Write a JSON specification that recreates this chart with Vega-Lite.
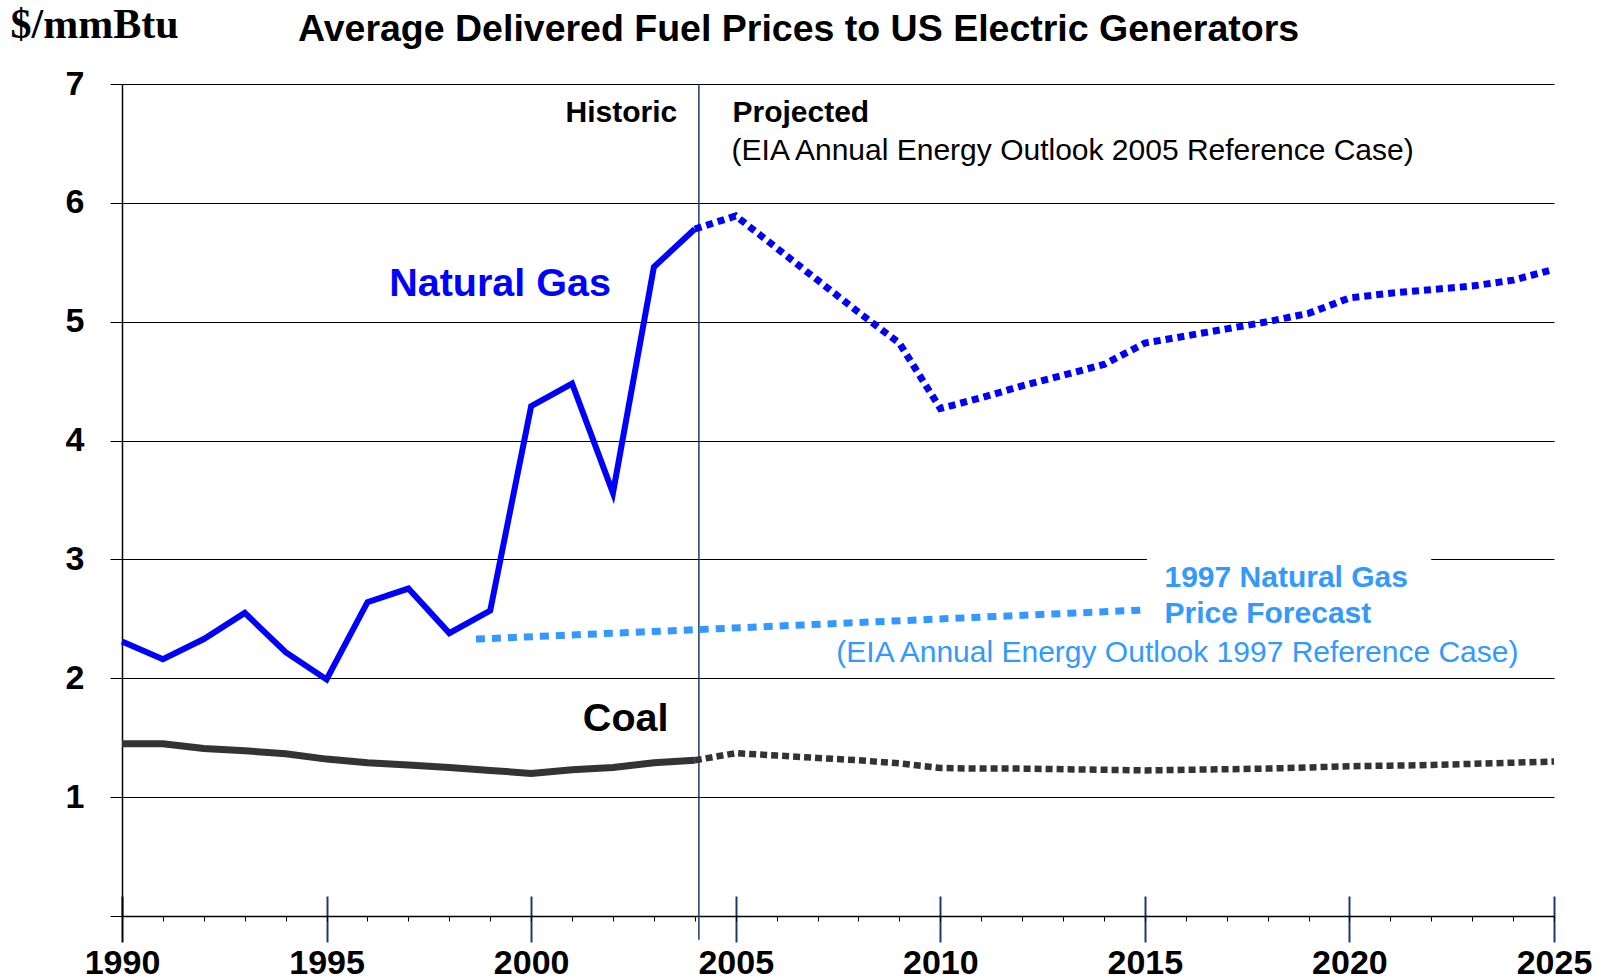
{
  "$schema": "https://vega.github.io/schema/vega-lite/v6.json",
  "width": 1432,
  "height": 832,
  "autosize": {"type": "none"},
  "padding": {"left": 122, "top": 84, "right": 50, "bottom": 64},
  "background": "white",
  "config": {"view": {"stroke": null}, "font": "Liberation Sans"},
  "title": {
    "text": "Average Delivered Fuel Prices to US Electric Generators",
    "anchor": "start", "frame": "group", "dx": 176, "offset": -75,
    "baseline": "alphabetic", "font": "Liberation Sans", "fontSize": 37.5,
    "fontWeight": "bold", "color": "#000000"
  },
  "datasets": {
    "gasHist": [
      {"year": 1990, "value": 2.31}, {"year": 1991, "value": 2.16}, {"year": 1992, "value": 2.33},
      {"year": 1993, "value": 2.55}, {"year": 1994, "value": 2.22}, {"year": 1995, "value": 1.99},
      {"year": 1996, "value": 2.64}, {"year": 1997, "value": 2.755}, {"year": 1998, "value": 2.38},
      {"year": 1999, "value": 2.57}, {"year": 2000, "value": 4.29}, {"year": 2001, "value": 4.48},
      {"year": 2002, "value": 3.56}, {"year": 2003, "value": 5.46}, {"year": 2004, "value": 5.78}
    ],
    "gasProj": [
      {"year": 2004, "value": 5.78}, {"year": 2005, "value": 5.89}, {"year": 2006, "value": 5.62},
      {"year": 2007, "value": 5.35}, {"year": 2008, "value": 5.08}, {"year": 2009, "value": 4.82},
      {"year": 2010, "value": 4.27}, {"year": 2011, "value": 4.36}, {"year": 2012, "value": 4.46},
      {"year": 2013, "value": 4.55}, {"year": 2014, "value": 4.64}, {"year": 2015, "value": 4.82},
      {"year": 2016, "value": 4.88}, {"year": 2017, "value": 4.94}, {"year": 2018, "value": 5.0},
      {"year": 2019, "value": 5.07}, {"year": 2020, "value": 5.2}, {"year": 2021, "value": 5.24},
      {"year": 2022, "value": 5.27}, {"year": 2023, "value": 5.3}, {"year": 2024, "value": 5.35},
      {"year": 2025, "value": 5.44}
    ],
    "gas1997": [
      {"year": 1998.65, "value": 2.33}, {"year": 2004.1, "value": 2.41}, {"year": 2015, "value": 2.575}
    ],
    "coalHist": [
      {"year": 1990, "value": 1.45}, {"year": 1991, "value": 1.45}, {"year": 1992, "value": 1.41},
      {"year": 1993, "value": 1.39}, {"year": 1994, "value": 1.365}, {"year": 1995, "value": 1.32},
      {"year": 1996, "value": 1.29}, {"year": 1997, "value": 1.27}, {"year": 1998, "value": 1.25},
      {"year": 1999, "value": 1.225}, {"year": 2000, "value": 1.2}, {"year": 2001, "value": 1.23},
      {"year": 2002, "value": 1.25}, {"year": 2003, "value": 1.29}, {"year": 2004, "value": 1.31}
    ],
    "coalProj": [
      {"year": 2004, "value": 1.31}, {"year": 2005, "value": 1.37}, {"year": 2006, "value": 1.35},
      {"year": 2007, "value": 1.33}, {"year": 2008, "value": 1.31}, {"year": 2009, "value": 1.285},
      {"year": 2010, "value": 1.245}, {"year": 2011, "value": 1.24}, {"year": 2012, "value": 1.24},
      {"year": 2013, "value": 1.235}, {"year": 2014, "value": 1.23}, {"year": 2015, "value": 1.225},
      {"year": 2016, "value": 1.23}, {"year": 2017, "value": 1.235}, {"year": 2018, "value": 1.24},
      {"year": 2019, "value": 1.25}, {"year": 2020, "value": 1.26}, {"year": 2021, "value": 1.265},
      {"year": 2022, "value": 1.27}, {"year": 2023, "value": 1.28}, {"year": 2024, "value": 1.29},
      {"year": 2025, "value": 1.3}
    ]
  },
  "encoding": {
    "x": {"field": "year", "type": "quantitative", "scale": {"domain": [1990, 2025], "nice": false, "zero": false}, "axis": null},
    "y": {
      "field": "value", "type": "quantitative",
      "scale": {"domain": [0, 7], "nice": false, "zero": false},
      "axis": {
        "values": [0, 1, 2, 3, 4, 5, 6, 7],
        "grid": true, "gridColor": "#000000", "gridWidth": 1, "gridOpacity": 1,
        "tickSize": 12, "tickColor": "#000000", "tickWidth": 1,
        "domain": true, "domainColor": "#000000", "domainWidth": 1.5,
        "labelExpr": "datum.value == 0 ? '' : datum.label",
        "labelFont": "Liberation Sans", "labelFontSize": 34, "labelFontWeight": "bold",
        "labelColor": "#000000", "labelPadding": 26,
        "title": "$/mmBtu", "titleAngle": 0, "titleAlign": "left", "titleBaseline": "alphabetic",
        "titleX": -112, "titleY": -47, "titleFont": "Liberation Serif", "titleFontSize": 42,
        "titleFontWeight": "bold", "titleColor": "#000000"
      }
    }
  },
  "layer": [
    {
      "data": {"values": [{"year": 2015.05, "year2": 2022.0, "value": 2.95, "value2": 3.05}]},
      "mark": {"type": "rect", "color": "white"},
      "encoding": {"x2": {"field": "year2"}, "y2": {"field": "value2"}}
    },
    {
      "data": {"values": [{"year": 2004.1, "value": 7, "value2": -0.2}]},
      "mark": {"type": "rule", "color": "#1F3A68", "strokeWidth": 1.5},
      "encoding": {
        "x": {
          "field": "year", "type": "quantitative",
          "scale": {"domain": [1990, 2025], "nice": false, "zero": false},
          "axis": {
            "orient": "bottom", "values": [1990, 1995, 2000, 2005, 2010, 2015, 2020, 2025],
            "offset": -20, "tickSize": 46, "tickWidth": 2,
            "tickColor": {"condition": {"test": "datum.value == 1990", "value": "#000000"}, "value": "#1F3A68"},
            "domain": false, "labels": false, "grid": false, "title": null
          }
        },
        "y2": {"field": "value2"}
      }
    },
    {
      "data": {"name": "gasHist"},
      "mark": {"type": "line", "color": "#0000FF", "strokeWidth": 6},
      "encoding": {
        "x": {
          "field": "year", "type": "quantitative",
          "scale": {"domain": [1990, 2025], "nice": false, "zero": false},
          "axis": {
            "orient": "bottom",
            "values": [1990,1991,1992,1993,1994,1995,1996,1997,1998,1999,2000,2001,2002,2003,2004,2005,2006,2007,2008,2009,2010,2011,2012,2013,2014,2015,2016,2017,2018,2019,2020,2021,2022,2023,2024,2025],
            "format": "d",
            "labelExpr": "datum.value % 5 == 0 ? datum.label : ''",
            "tickSize": 5, "tickColor": "#000000", "tickWidth": 1,
            "domain": true, "domainColor": "#000000", "domainWidth": 1.5,
            "grid": false, "title": null,
            "labelFont": "Liberation Sans", "labelFontSize": 34, "labelFontWeight": "bold",
            "labelColor": "#000000", "labelPadding": 25,
            "labelOverlap": false, "labelBound": false, "labelFlush": false
          }
        }
      }
    },
    {
      "data": {"name": "gasProj"},
      "mark": {"type": "line", "color": "#0000FF", "strokeWidth": 7, "strokeDash": [7, 5]}
    },
    {
      "data": {"name": "gas1997"},
      "mark": {"type": "line", "color": "#3399FF", "strokeWidth": 7, "strokeDash": [9, 7]}
    },
    {
      "data": {"name": "coalHist"},
      "mark": {"type": "line", "color": "#333333", "strokeWidth": 7}
    },
    {
      "data": {"name": "coalProj"},
      "mark": {"type": "line", "color": "#333333", "strokeWidth": 6.5, "strokeDash": [7, 4]}
    },
    {
      "data": {"values": [{"year": 1999.24, "value": 5.32, "label": "Natural Gas"}]},
      "mark": {"type": "text", "color": "#0000FF", "fontSize": 39.5, "fontWeight": "bold", "align": "center", "baseline": "middle"},
      "encoding": {"text": {"field": "label"}}
    },
    {
      "data": {"values": [{"year": 2002.31, "value": 1.66, "label": "Coal"}]},
      "mark": {"type": "text", "color": "#000000", "fontSize": 39.5, "fontWeight": "bold", "align": "center", "baseline": "middle"},
      "encoding": {"text": {"field": "label"}}
    },
    {
      "data": {"values": [{"year": 2003.57, "value": 6.755, "label": "Historic"}]},
      "mark": {"type": "text", "color": "#000000", "fontSize": 30, "fontWeight": "bold", "align": "right", "baseline": "middle"},
      "encoding": {"text": {"field": "label"}}
    },
    {
      "data": {"values": [{"year": 2004.92, "value": 6.755, "label": "Projected"}]},
      "mark": {"type": "text", "color": "#000000", "fontSize": 30, "fontWeight": "bold", "align": "left", "baseline": "middle"},
      "encoding": {"text": {"field": "label"}}
    },
    {
      "data": {"values": [{"year": 2004.9, "value": 6.44, "label": "(EIA Annual Energy Outlook 2005 Reference Case)"}]},
      "mark": {"type": "text", "color": "#000000", "fontSize": 30, "fontWeight": "normal", "align": "left", "baseline": "middle"},
      "encoding": {"text": {"field": "label"}}
    },
    {
      "data": {"values": [
        {"year": 2015.48, "value": 2.84, "label": "1997 Natural Gas"},
        {"year": 2015.48, "value": 2.54, "label": "Price Forecast"}
      ]},
      "mark": {"type": "text", "color": "#3399FF", "fontSize": 30, "fontWeight": "bold", "align": "left", "baseline": "middle"},
      "encoding": {"text": {"field": "label"}}
    },
    {
      "data": {"values": [{"year": 2007.46, "value": 2.21, "label": "(EIA Annual Energy Outlook 1997 Reference Case)"}]},
      "mark": {"type": "text", "color": "#3399FF", "fontSize": 30, "fontWeight": "normal", "align": "left", "baseline": "middle"},
      "encoding": {"text": {"field": "label"}}
    }
  ],
  "resolve": {"axis": {"x": "independent"}}
}
